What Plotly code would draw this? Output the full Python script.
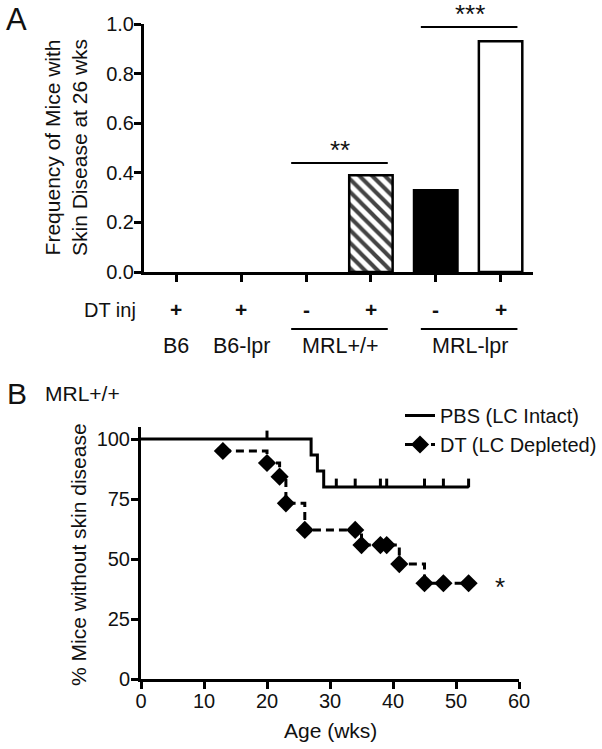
import plotly.graph_objects as go

W, H = 602, 749
FONT = "Liberation Sans, Arial, sans-serif"

# ---------------- Panel A data ----------------
cat_ids = ["B6 +", "B6-lpr +", "MRL+/+ -", "MRL+/+ +", "MRL-lpr -", "MRL-lpr +"]
dt_inj = ["+", "+", "-", "+", "-", "+"]
freq = [0.0, 0.0, 0.0, 0.39, 0.33, 0.93]
single_labels = [("B6", 0), ("B6-lpr", 1)]
group_labels = [("MRL+/+", 2, 3), ("MRL-lpr", 4, 5)]
sig_marks = [(2, 3, "**", 0.44), (4, 5, "***", 0.988)]
a_yticks = [0, 0.2, 0.4, 0.6, 0.8, 1.0]

# ---------------- Panel B data ----------------
pbs_t = [0, 27, 28, 29, 52]
pbs_s = [100, 93.3, 86.7, 80, 80]
pbs_cens_t = [20, 31, 34, 38, 39, 45, 48, 52]
pbs_cens_s = [100, 80, 80, 80, 80, 80, 80, 80]
dt_t = [13, 20, 22, 23, 26, 34, 35, 38, 39, 41, 45, 48, 52]
dt_s = [95, 90, 84.3, 73.2, 62.1, 62.1, 55.8, 55.8, 55.8, 47.9, 39.9, 39.9, 39.9]
b_xticks = [0, 10, 20, 30, 40, 50, 60]
b_yticks = [0, 25, 50, 75, 100]


def px(x):
    return x / W


def py(y):
    return 1 - y / H


TXT = "#111"
fig = go.Figure()

# Bars
colors = ["white", "white", "white", "white", "black", "white"]
patterns = ["", "", "", "\\", "", ""]
line_w = [0 if v == 0 else 2.5 for v in freq]
fig.add_trace(go.Bar(
    x=cat_ids, y=freq, xaxis="x", yaxis="y",
    marker=dict(color=colors, line=dict(color="black", width=line_w),
                pattern=dict(shape=patterns, fgcolor="black", bgcolor="white",
                             fgopacity=1, size=9, solidity=0.45)),
    showlegend=False, hoverinfo="skip",
))

# Panel B curves
fig.add_trace(go.Scatter(
    x=pbs_t, y=pbs_s, xaxis="x2", yaxis="y2", mode="lines",
    line=dict(color="black", width=3, shape="hv"),
    name="PBS (LC Intact)",
))
fig.add_trace(go.Scatter(
    x=pbs_cens_t, y=pbs_cens_s, xaxis="x2", yaxis="y2", mode="markers",
    marker=dict(size=2, color="black"),
    error_y=dict(type="data", symmetric=False, array=[3.5] * len(pbs_cens_t),
                 arrayminus=[0] * len(pbs_cens_t), width=0, thickness=3,
                 color="black"),
    showlegend=False, hoverinfo="skip",
))
fig.add_trace(go.Scatter(
    x=dt_t, y=dt_s, xaxis="x2", yaxis="y2", mode="lines+markers",
    line=dict(color="black", width=3, shape="hv", dash="8px,5px"),
    marker=dict(symbol="diamond", size=14, color="black"),
    name="DT (LC Depleted)",
))

axis_common = dict(showline=True, linecolor="black", linewidth=3, ticks="outside",
                   ticklen=7, tickwidth=2.5, tickcolor="black", showgrid=False,
                   zeroline=False, automargin=False,
                   tickfont=dict(family=FONT, size=20, color=TXT))

fig.update_layout(
    width=W, height=H, autosize=False,
    margin=dict(l=0, r=0, t=0, b=0, pad=0, autoexpand=False),
    paper_bgcolor="white", plot_bgcolor="white",
    font=dict(family=FONT, color=TXT),
    bargap=0.33,
    xaxis=dict(domain=[px(144), px(533)], anchor="y", type="category",
               categoryorder="array", categoryarray=cat_ids, range=[-0.5, 5.5],
               showticklabels=False, **axis_common),
    yaxis=dict(domain=[py(272), py(24)], anchor="x", range=[0, 1],
               tickvals=a_yticks, tickformat=".1f", ticklabelstandoff=-4,
               **axis_common),
    xaxis2=dict(domain=[px(141), px(519)], anchor="y2", range=[0, 60],
                tickvals=b_xticks, ticklabelstandoff=-5, **axis_common),
    yaxis2=dict(domain=[py(679), py(427)], anchor="x2", range=[0, 105],
                tickvals=b_yticks, ticklabelstandoff=-3, **axis_common),
    legend=dict(x=px(400), y=py(396), xanchor="left", yanchor="top",
                font=dict(family=FONT, size=20, color=TXT),
                bgcolor="rgba(0,0,0,0)", itemwidth=30, tracegroupgap=0),
)

ann = []
shapes = []


def text(t, x, y, size, xanchor="center", angle=0, xref="paper"):
    ann.append(dict(text=t, x=x, y=py(y), xref=xref, yref="paper",
                    xanchor=xanchor, yanchor="middle", showarrow=False,
                    textangle=angle, font=dict(size=size, family=FONT, color=TXT)))


# Panel letters and titles
text("A", px(4), 20, 31, "left")
text("B", px(5), 393, 30, "left")
text("MRL+/+", px(43), 393, 21, "left")
text("Frequency of Mice with<br>Skin Disease at 26 wks", px(66), 148, 21, angle=-90)
text("% Mice without skin disease", px(78), 555, 21, angle=-90)
text("Age (wks)", px(330), 730, 21)

# DT inj row
text("DT inj", px(138), 310, 20, "right")
for i, s in enumerate(dt_inj):
    text("<b>%s</b>" % s, i, 309, 21, xref="x")
for lab, i in single_labels:
    text(lab, i, 346, 21.5, xref="x")
for lab, i0, i1 in group_labels:
    shapes.append(dict(type="line", xref="x", yref="paper", x0=i0 - 0.23, x1=i1 + 0.26,
                       y0=py(329), y1=py(329), line=dict(color="black", width=2)))
    text(lab, (i0 + i1) / 2 + 0.03, 346, 21.5, xref="x")

# Significance marks
for i0, i1, txt, yv in sig_marks:
    shapes.append(dict(type="line", xref="x", yref="y", x0=i0 - 0.23, x1=i1 + 0.26,
                       y0=yv, y1=yv, line=dict(color="black", width=2)))
    ann.append(dict(text=txt, x=(i0 + i1) / 2 + 0.03, y=yv, xref="x", yref="y",
                    xanchor="center", yanchor="bottom", showarrow=False, yshift=-4,
                    font=dict(size=26, family=FONT, color=TXT)))

ann.append(dict(text="*", x=57, y=40, xref="x2", yref="y2", xanchor="center",
                yanchor="middle", showarrow=False, yshift=-4,
                font=dict(size=26, family=FONT, color=TXT)))

fig.update_layout(annotations=ann, shapes=shapes)
fig.write_html("out.html", config={"displayModeBar": False},
               post_script="document.body.style.margin='0px';"
                           "document.body.style.overflow='hidden';"
                           "document.documentElement.style.overflow='hidden';")
